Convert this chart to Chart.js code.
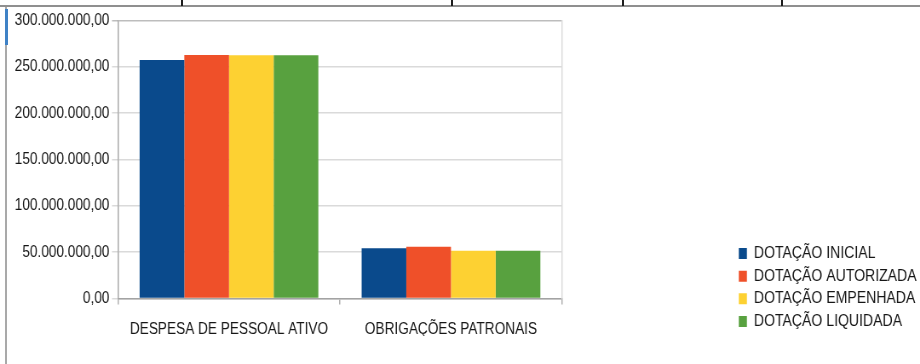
<!DOCTYPE html>
<html lang="pt-BR">
<head>
    <meta charset="UTF-8">
    <title>Dotação Orçamentária</title>
    <script src="https://cdn.jsdelivr.net/npm/chart.js@4"></script>
    <style>
        html, body { margin: 0; padding: 0; background: #fff; }
        .pagina { position: relative; width: 920px; height: 364px; overflow: hidden; background: #fff; }
        /* o canvas é desenhado mais largo e comprimido na horizontal */
        .quadro { position: absolute; left: 0; top: 0; width: 1080px; height: 364px; transform: scaleX(0.851852); transform-origin: 0 0; }
        .tabela { position: absolute; left: 0; top: 0; width: 920px; height: 5px; border-bottom: 2px solid #8f8f8f; }
        .tabela span { position: absolute; top: 0; width: 2px; height: 6px; background: #1e1e1e; }
        .regua { position: absolute; left: 5px; top: 7px; width: 2px; height: 357px; background: #a9a9a9; }
        .regua-marca { position: absolute; left: 5px; top: 9px; width: 3px; height: 36px; background: #3f82c6; }
    </style>
</head>
<body>
    <div class="pagina">
        <div class="quadro">
            <canvas id="grafico" width="1080" height="364"></canvas>
        </div>
        <div class="tabela">
            <span style="left:181px"></span>
            <span style="left:451px"></span>
            <span style="left:622px"></span>
            <span style="left:781px"></span>
        </div>
        <div class="regua"></div>
        <div class="regua-marca"></div>
    </div>

    <script>
        const categorias = ['DESPESA DE PESSOAL ATIVO', 'OBRIGAÇÕES PATRONAIS'];
        const nomesSeries = ['DOTAÇÃO INICIAL', 'DOTAÇÃO AUTORIZADA', 'DOTAÇÃO EMPENHADA', 'DOTAÇÃO LIQUIDADA'];

        const dotacaoInicial = [257400000, 54200000];
        const dotacaoAutorizada = [262800000, 55900000];
        const dotacaoEmpenhada = [262600000, 51600000];
        const dotacaoLiquidada = [262600000, 51600000];

        const eixoMin = 0;
        const eixoMax = 300000000;
        const eixoPasso = 50000000;

        const cores = ['#0a4a8c', '#ef5029', '#fdd132', '#58a13f'];

        const fonte = { family: "'Liberation Sans', Arial, sans-serif", size: 16 };
        const corTexto = '#161616';

        // limite direito da área de plotagem, em pixels do canvas
        const limiteDireito = 659.7;
        const margemDireita = -6;

        function formatarValor(v) {
            const [inteiro, decimal] = Number(v).toFixed(2).split('.');
            return inteiro.replace(/\B(?=(\d{3})+(?!\d))/g, '.') + ',' + decimal;
        }

        const valores = [dotacaoInicial, dotacaoAutorizada, dotacaoEmpenhada, dotacaoLiquidada];

        new Chart(document.getElementById('grafico'), {
            type: 'bar',
            data: {
                labels: categorias,
                datasets: nomesSeries.map((nome, i) => ({
                    label: nome,
                    data: valores[i],
                    backgroundColor: cores[i],
                    borderWidth: 0
                }))
            },
            options: {
                responsive: false,
                devicePixelRatio: 1,
                animation: false,
                events: [],
                layout: { padding: { top: 20.5, left: 10, right: margemDireita, bottom: 28 } },
                datasets: { bar: { categoryPercentage: 0.805, barPercentage: 1.0 } },
                plugins: {
                    tooltip: { enabled: false },
                    legend: {
                        position: 'right',
                        align: 'end',
                        maxWidth: 260,
                        labels: {
                            boxWidth: 9.5,
                            boxHeight: 11,
                            padding: 6.2,
                            color: corTexto,
                            font: { family: fonte.family, size: 16.5 }
                        }
                    }
                },
                scales: {
                    x: {
                        grid: { drawOnChartArea: false, tickLength: 6, color: '#b0b0b0', lineWidth: 1.5 },
                        border: { color: '#a3a3a3', width: 1.5 },
                        ticks: { padding: 15, color: corTexto, font: fonte },
                        afterFit: s => { s.height = 37.5; }
                    },
                    y: {
                        min: eixoMin,
                        max: eixoMax,
                        ticks: {
                            stepSize: eixoPasso,
                            padding: 3,
                            color: corTexto,
                            font: fonte,
                            callback: v => formatarValor(v)
                        },
                        grid: {
                            tickLength: 7,
                            lineWidth: 1.5,
                            color: ctx => ctx.tick && ctx.tick.value === eixoMax ? '#bdbdbd' : '#dadada'
                        },
                        border: { color: '#a8a8a8', width: 1.5 },
                        afterFit: s => { s.width = 128.5; }
                    },
                    // eixo vazio que afasta a legenda e desenha a borda direita do gráfico
                    margem: {
                        type: 'linear',
                        position: 'right',
                        grid: { display: false },
                        ticks: { display: false },
                        border: { color: '#dcdcdc', width: 1.5 },
                        afterFit: s => {
                            const leg = s.chart.legend;
                            s.width = leg ? s.chart.width - margemDireita - leg.width - limiteDireito : 200;
                        }
                    }
                }
            }
        });
    </script>
</body>
</html>
